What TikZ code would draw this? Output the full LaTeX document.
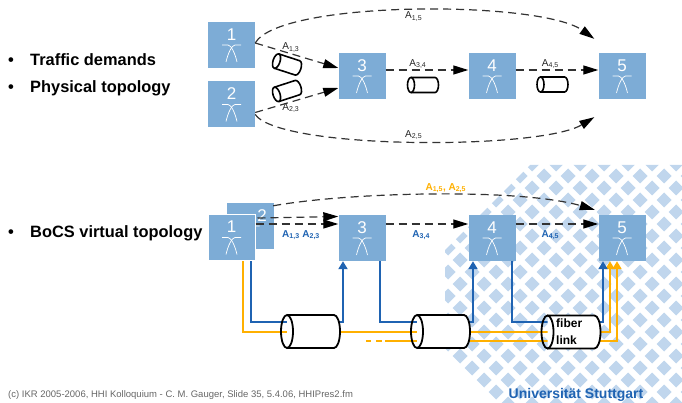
\documentclass[tikz,border=0pt]{standalone}
\usepackage{fontspec}
\setmainfont{Liberation Sans}
\usetikzlibrary{arrows.meta,calc}

\definecolor{boxblue}{RGB}{125,172,214}
\definecolor{patblue}{RGB}{192,214,237}
\definecolor{ikrblue}{RGB}{31,99,178}
\definecolor{ikrorange}{RGB}{255,176,0}

\newcommand{\dem}[1]{A\textsubscript{#1}}

\tikzset{
  pics/fiber/.style n args={3}{code={
    \filldraw[fill=white] (-#1,-#2) -- (#1,-#2)
      arc[start angle=-90,end angle=90,x radius=#3,y radius=#2] -- (-#1,#2);
    \draw (-#1,0) ellipse[x radius=#3,y radius=#2];
  }}
}

\begin{document}
\begin{tikzpicture}
[x=1pt,y=-1pt,
 swbox/.style={fill=boxblue, minimum width=47pt, minimum height=46pt, inner sep=0pt,
   text=white, font=\fontsize{17}{17}\selectfont, text height=12.2pt, text depth=22pt,
   path picture={
     \draw[white,line width=0.7pt] ([shift={(-9.5,0)}]path picture bounding box.center)
       -- ++(6,0) .. controls +(3,0) and +(-2,-9) .. ++(9,17);
     \draw[white,line width=0.7pt] ([shift={(9.5,0)}]path picture bounding box.center)
       -- ++(-6,0) .. controls +(-3,0) and +(2,-9) .. ++(-9,17);
   }},
 dem/.style={font=\fontsize{10}{10}\selectfont, text=black!85, inner sep=1pt},
 bdem/.style={font=\bfseries\fontsize{10}{10}\selectfont, inner sep=1pt},
 flow/.style={draw=black!80, line width=1.2pt, dash pattern=on 8pt off 5pt,
   -{Triangle[length=15pt,width=9pt,color=black]}},
 bline/.style={draw=ikrblue, line width=2pt, -{Triangle[length=8pt,width=9pt]}},
 oline/.style={draw=ikrorange, line width=2pt, -{Triangle[length=8pt,width=9pt]}},
 bullet/.style={anchor=base west, inner sep=0pt, font=\bfseries\fontsize{16.4}{18}\selectfont}]

\useasboundingbox (0,0) rectangle (682,403);

% logo pattern
\begin{scope}
\clip (530,165) -- (682,165) -- (682,403) -- (495,403) -- (445,350) -- (445,250) -- cycle;
\foreach \j in {0,...,20}
  \foreach \i in {0,...,10}{
    \pgfmathsetmacro\dx{436+24*\i+12*mod(\j,2)}
    \fill[patblue] (\dx,164+12*\j) +(-7.5,0) -- +(0,-7.5) -- +(7.5,0) -- +(0,7.5) -- cycle;
  }
\end{scope}

\node (traffic) at (8,66)[bullet] {\makebox[22pt][l]{\textbullet}Traffic demands};
\node (physical) at (8,92.5)[bullet] {\makebox[22pt][l]{\textbullet}Physical topology};
\node (bocs) at (8,238)[bullet] {\makebox[22pt][l]{\textbullet}BoCS virtual topology};

% physical topology
\node (t1) at (231.5,45)[swbox] {1};
\node (t2) at (231.5,104.5)[swbox] {2};
\node (t3) at (362,76)[swbox] {3};
\node (t4) at (492,76)[swbox] {4};
\node (t5) at (622,76)[swbox] {5};

\draw[flow] ([yshift=2pt]t1.east) .. controls (280,0) and (540,0) ..
  node[dem,below] (l15) {\dem{1,5}} ([shift={(-4,-14)}]t5.north west);
\draw[flow] ([yshift=-10pt]t2.east) .. controls (280,150) and (540,150) ..
  node[dem,above] (l25) {\dem{2,5}} ([shift={(-4,18)}]t5.south west);
\draw[flow] ([yshift=2pt]t1.east) -- node[dem,above,pos=0.43] (l13) {\dem{1,3}} ([yshift=8pt]t3.west);
\draw[flow] ([yshift=-8pt]t2.east) -- node[dem,below,pos=0.43] (l23) {\dem{2,3}} ([yshift=-12pt]t3.west);
\draw[flow] ([yshift=6pt]t3.east) -- node[dem,above,pos=0.39] (l34) {\dem{3,4}} ([yshift=6pt]t4.west);
\draw[flow] ([yshift=6pt]t4.east) -- node[dem,above,pos=0.42] (l45) {\dem{4,5}} ([yshift=6pt]t5.west);

\pic[line width=1.6pt,rotate=-18] (c13) at (287,64.5) {fiber={11}{7.5}{3.5}};
\pic[line width=1.6pt,rotate=18] (c23) at (287,91) {fiber={11}{7.5}{3.5}};
\pic[line width=1.6pt] (c34) at (423,85) {fiber={12}{7.5}{3.5}};
\pic[line width=1.6pt] (c45) at (552.5,84.5) {fiber={12}{7.5}{3.5}};

% virtual topology
\node (b2) at (250,226)[swbox] {\hspace*{24pt}2};
\node (b1) at (231.5,237.5)[swbox,draw=white,line width=1pt] {1};
\node (b3) at (362,238)[swbox] {3};
\node (b4) at (492,238)[swbox] {4};
\node (b5) at (622,238)[swbox] {5};

\draw[flow] ([shift={(-0.5,3)}]b2.north east) .. controls (350,192) and (520,188) ..
  node[bdem,text=ikrorange,above,pos=0.53] (l1525) {\dem{1,5}, \dem{2,5}} ([shift={(-3.5,-5)}]b5.north west);
\draw[flow] ([shift={(2,-19.5)}]b1.east) -- ([yshift=21.5pt]b3.west);
\draw[flow] ([yshift=13.5pt]b1.east) -- node[bdem,text=ikrblue,below=5pt,pos=0.55] (l1323) {\dem{1,3} \dem{2,3}} ([yshift=14pt]b3.west);
\draw[flow] ([yshift=14pt]b3.east) -- node[bdem,text=ikrblue,below=5pt,pos=0.43] (l34b) {\dem{3,4}} ([yshift=14pt]b4.west);
\draw[flow] ([yshift=14pt]b4.east) -- node[bdem,text=ikrblue,below=5pt,pos=0.42] (l45b) {\dem{4,5}} ([yshift=14pt]b5.west);

\coordinate (o2s) at (366,341);
\draw[oline] ([xshift=11.5pt]b1.south) -- ++(0,70.5) -| ([xshift=-12pt]b5.south);
\draw[oline,dash pattern=on 5pt off 5pt on 6pt off 3pt on 1000pt] (o2s) -| ([xshift=-5pt]b5.south);
\draw[bline] ([xshift=19.5pt]b1.south) -- ++(0,60.5) -| ([xshift=-19pt]b3.south);
\draw[bline] ([xshift=18pt]b3.south) -- ++(0,61) -| ([xshift=-19pt]b4.south);
\draw[bline] ([xshift=20pt]b4.south) -- ++(0,61) -| ([xshift=-19pt]b5.south);

\pic[line width=1.8pt] (c1) at (310.5,331.5) {fiber={23.5}{16.5}{6}};
\pic[line width=1.8pt] (c2) at (440.5,331.5) {fiber={23.5}{16.5}{6}};
\pic[line width=1.8pt] (c3) at (571,332) {fiber={23.5}{16.5}{6}};
\node (fibertext) at (556,331.5)[anchor=west,align=left,inner sep=0pt,
  font=\bfseries\fontsize{12}{17}\selectfont] {fiber\\link};

% footer
\node (foot) at (8,397)[anchor=base west,inner sep=0pt,text=black!60,
  font=\fontsize{9.5}{11}\selectfont] {(c) IKR 2005-2006, HHI Kolloquium - C. M. Gauger, Slide 35, 5.4.06, HHIPres2.fm};
\node (uni) at (576,398)[anchor=base,inner sep=0pt,text=ikrblue,
  font=\bfseries\fontsize{14}{16}\selectfont] {Universität Stuttgart};
\end{tikzpicture}
\end{document}
